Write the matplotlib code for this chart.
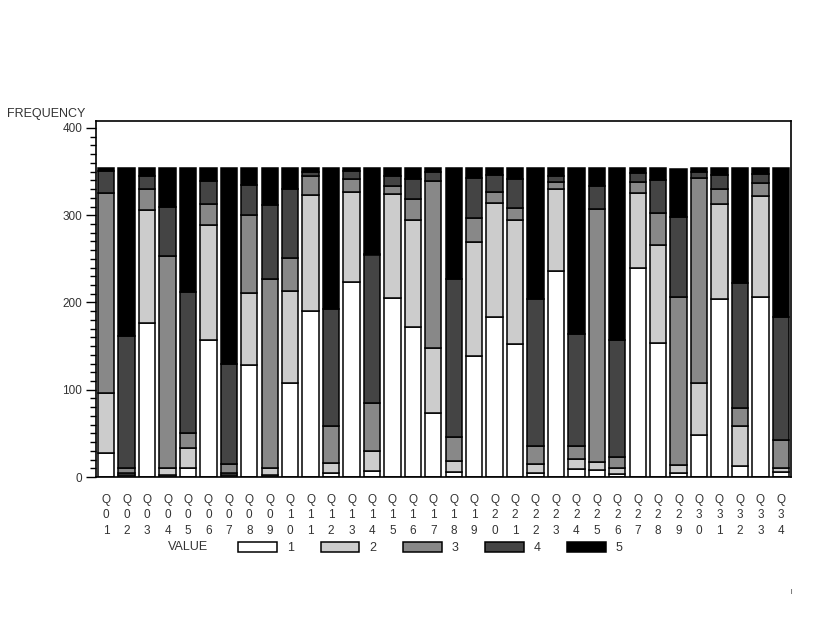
import matplotlib
matplotlib.use("Agg")
import matplotlib.pyplot as plt
import numpy as np

# questions Q01..Q34
questions = [f"Q{i:02d}" for i in range(1, 35)]

# frequency of each answer value per question
value_1 = [27, 2, 176, 2, 10, 157, 2, 128, 2, 108, 190, 5, 223, 7, 205, 172, 73,
           6, 139, 183, 152, 5, 236, 9, 8, 3, 239, 154, 5, 48, 204, 13, 206, 6]
value_2 = [69, 3, 130, 8, 23, 132, 3, 83, 8, 105, 133, 11, 104, 23, 119, 123, 75,
           12, 130, 131, 142, 10, 94, 12, 9, 7, 86, 112, 9, 60, 109, 45, 116, 4]
value_3 = [229, 5, 24, 243, 17, 24, 10, 89, 217, 38, 22, 43, 14, 55, 10, 24, 191,
           28, 28, 13, 14, 20, 8, 14, 290, 13, 13, 36, 192, 235, 17, 21, 15, 32]
value_4 = [26, 152, 15, 57, 162, 26, 115, 35, 85, 79, 4, 133, 10, 170, 11, 23, 11,
           181, 46, 19, 33, 169, 7, 129, 26, 134, 10, 38, 92, 6, 16, 143, 10, 141]
value_5 = [3, 192, 9, 44, 142, 15, 224, 19, 42, 24, 5, 162, 3, 99, 9, 12, 4,
           127, 11, 8, 13, 150, 9, 190, 21, 197, 6, 14, 55, 5, 8, 132, 7, 171]

series = [value_1, value_2, value_3, value_4, value_5]
value_labels = ["1", "2", "3", "4", "5"]
colors = ["#ffffff", "#cccccc", "#888888", "#444444", "#000000"]

plt.rcParams["font.family"] = ["Liberation Sans", "DejaVu Sans"]

fig = plt.figure(figsize=(8.16, 6.24), dpi=100)
ax = fig.add_axes([96 / 816, 1 - 477 / 624, 695 / 816, 356 / 624])

x = np.arange(len(questions))
bottom = np.zeros(len(questions))
handles = []
for vals, col, lab in zip(series, colors, value_labels):
    b = ax.bar(x, vals, bottom=bottom, width=0.8, color=col,
               edgecolor="black", linewidth=1.1, label=lab)
    handles.append(b)
    bottom += np.array(vals)

ax.set_xlim(-0.5, len(questions) - 0.5)
ax.set_ylim(0, 408)
ax.set_yticks([0, 100, 200, 300, 400])
ax.set_yticks(np.arange(0, 401, 10), minor=True)
ax.tick_params(axis="y", which="major", length=7, width=1, labelsize=8.5,
               pad=3, labelcolor="#333333")
ax.tick_params(axis="y", which="minor", length=4, width=1)

ax.set_xticks(x)
ax.set_xticklabels(["\n".join(q) for q in questions], linespacing=1.4)
ax.tick_params(axis="x", length=0, labelsize=8.5, pad=12, labelcolor="#333333")

for sp in ax.spines.values():
    sp.set_linewidth(1.2)

fig.text(7 / 816, 1 - 114 / 624, "FREQUENCY", fontsize=9, color="#333333",
         va="center", ha="left")

# legend row at the bottom
fig.text(168 / 816, 1 - 547 / 624, "VALUE", fontsize=9, color="#333333",
         va="center", ha="left")
fig.legend(handles=handles, labels=value_labels, loc="center left",
           bbox_to_anchor=(232 / 816, 1 - 548 / 624), ncol=5, frameon=False,
           borderpad=0, handlelength=3.1, handleheight=0.9, handletextpad=0.8,
           columnspacing=2.12, fontsize=9, labelcolor="#333333")

fig.text(791 / 816, 1 - 591 / 624, "|", fontsize=4, ha="center", va="center")

fig.savefig("out.png", dpi=100)
